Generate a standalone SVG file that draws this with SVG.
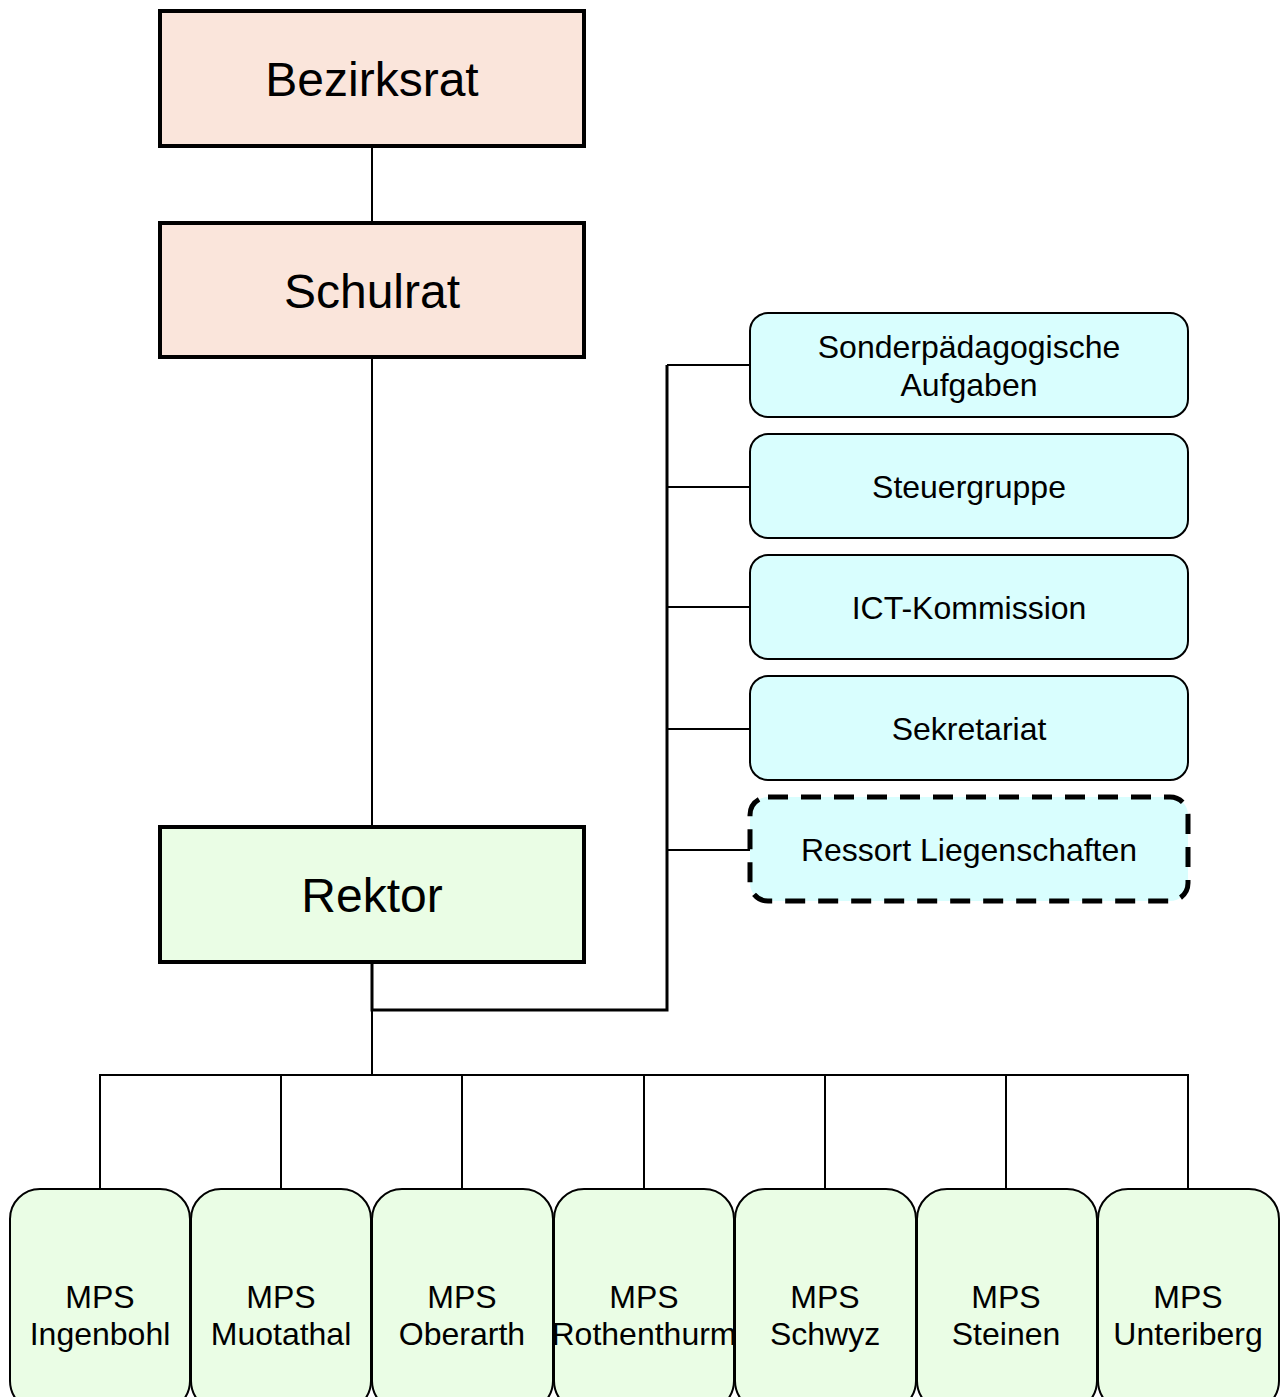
<svg xmlns="http://www.w3.org/2000/svg" width="1286" height="1397" viewBox="0 0 1286 1397">
<style>
.top{stroke:#000;stroke-width:4}
.salmon{fill:#FAE5DB}
.green{fill:#EAFDE5}
.side{fill:#D9FEFE;stroke:#000;stroke-width:2}
.dash{fill:#D9FEFE;stroke:#000;stroke-width:5;stroke-dasharray:20 13}
.mps{fill:#EAFDE5;stroke:#000;stroke-width:2}
.c{fill:none;stroke:#000;stroke-width:2}
.c3{fill:none;stroke:#000;stroke-width:3}
text{font-family:"Liberation Sans",Arial,sans-serif;fill:#000;text-anchor:middle}
.big{font-size:48px}
.sm{font-size:32px}
</style>
<rect width="1286" height="1397" fill="#fff"/>
<g id="connectors">
<line class="c" x1="372" y1="146" x2="372" y2="222"/>
<line class="c" x1="372" y1="357" x2="372" y2="826"/>
<polyline class="c3" points="372,962 372,1010 667,1010 667,365"/>
<line class="c" x1="667" y1="365" x2="750" y2="365"/>
<line class="c" x1="667" y1="487" x2="750" y2="487"/>
<line class="c" x1="667" y1="607" x2="750" y2="607"/>
<line class="c" x1="667" y1="729" x2="750" y2="729"/>
<line class="c" x1="667" y1="850" x2="750" y2="850"/>
<line class="c" x1="372" y1="1010" x2="372" y2="1075"/>
<line class="c" x1="99" y1="1075" x2="1189" y2="1075"/>
<line class="c" x1="100" y1="1075" x2="100" y2="1189"/>
<line class="c" x1="281" y1="1075" x2="281" y2="1189"/>
<line class="c" x1="462" y1="1075" x2="462" y2="1189"/>
<line class="c" x1="644" y1="1075" x2="644" y2="1189"/>
<line class="c" x1="825" y1="1075" x2="825" y2="1189"/>
<line class="c" x1="1006" y1="1075" x2="1006" y2="1189"/>
<line class="c" x1="1188" y1="1075" x2="1188" y2="1189"/>
</g>
<g id="bezirksrat"><rect class="top salmon" x="160" y="11" width="424" height="135"/><text class="big" x="372" y="96">Bezirksrat</text></g>
<g id="schulrat"><rect class="top salmon" x="160" y="223" width="424" height="134"/><text class="big" x="372" y="308">Schulrat</text></g>
<g id="rektor"><rect class="top green" x="160" y="827" width="424" height="135"/><text class="big" x="372" y="912">Rektor</text></g>
<g id="sonder"><rect class="side" x="750" y="313" width="438" height="104" rx="18"/><text class="sm" x="969" y="358">Sonderpädagogische</text><text class="sm" x="969" y="396">Aufgaben</text></g>
<g id="steuergruppe"><rect class="side" x="750" y="434" width="438" height="104" rx="18"/><text class="sm" x="969" y="498">Steuergruppe</text></g>
<g id="ict"><rect class="side" x="750" y="555" width="438" height="104" rx="18"/><text class="sm" x="969" y="619">ICT-Kommission</text></g>
<g id="sekretariat"><rect class="side" x="750" y="676" width="438" height="104" rx="18"/><text class="sm" x="969" y="740">Sekretariat</text></g>
<g id="ressort"><rect class="dash" x="750" y="797" width="438" height="104" rx="18"/><text class="sm" x="969" y="861">Ressort Liegenschaften</text></g>
<g id="ingenbohl"><rect class="mps" x="10" y="1189" width="180" height="222" rx="30"/><text class="sm" x="100" y="1308">MPS</text><text class="sm" x="100" y="1345">Ingenbohl</text></g>
<g id="muotathal"><rect class="mps" x="191" y="1189" width="180" height="222" rx="30"/><text class="sm" x="281" y="1308">MPS</text><text class="sm" x="281" y="1345">Muotathal</text></g>
<g id="oberarth"><rect class="mps" x="372" y="1189" width="181" height="222" rx="30"/><text class="sm" x="462" y="1308">MPS</text><text class="sm" x="462" y="1345">Oberarth</text></g>
<g id="rothenthurm"><rect class="mps" x="554" y="1189" width="180" height="222" rx="30"/><text class="sm" x="644" y="1308">MPS</text><text class="sm" x="644" y="1345">Rothenthurm</text></g>
<g id="schwyz"><rect class="mps" x="735" y="1189" width="181" height="222" rx="30"/><text class="sm" x="825" y="1308">MPS</text><text class="sm" x="825" y="1345">Schwyz</text></g>
<g id="steinen"><rect class="mps" x="917" y="1189" width="180" height="222" rx="30"/><text class="sm" x="1006" y="1308">MPS</text><text class="sm" x="1006" y="1345">Steinen</text></g>
<g id="unteriberg"><rect class="mps" x="1098" y="1189" width="181" height="222" rx="30"/><text class="sm" x="1188" y="1308">MPS</text><text class="sm" x="1188" y="1345">Unteriberg</text></g>
</svg>
